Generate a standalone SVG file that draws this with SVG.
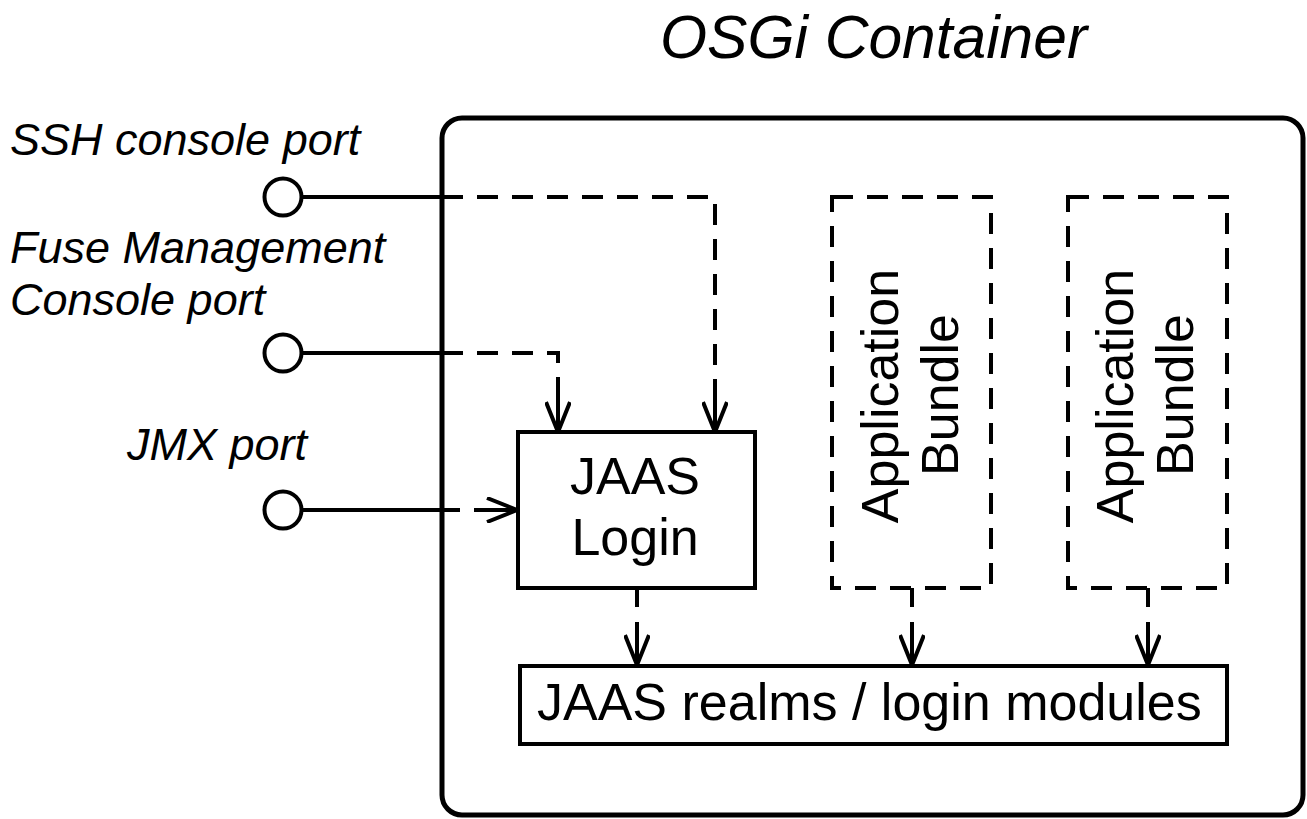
<svg xmlns="http://www.w3.org/2000/svg" width="1307" height="819" viewBox="0 0 1307 819">
<style>
  text { font-family: "Liberation Sans", Arial, sans-serif; fill: #000; }
  .lbl { font-style: italic; font-size: 45px; }
  .title { font-style: italic; font-size: 60.5px; }
  .node { font-size: 52px; }
  .box { fill: #fff; stroke: #000; stroke-width: 4; }
  .dbox { fill: none; stroke: #000; stroke-width: 4; stroke-dasharray: 21 14; }
  .port { fill: #fff; stroke: #000; stroke-width: 4; }
  .solid { fill: none; stroke: #000; stroke-width: 4; }
  .dash { fill: none; stroke: #000; stroke-width: 4; stroke-dasharray: 21 14; }
  .arr { fill: none; stroke: #000; stroke-width: 4; marker-end: url(#open); }
</style>
<defs>
  <marker id="open" viewBox="0 0 32 26" refX="31" refY="13" markerWidth="32" markerHeight="26" markerUnits="userSpaceOnUse" orient="auto">
    <path d="M1,1 L31,13 L1,25" fill="none" stroke="#000" stroke-width="4"/>
  </marker>
</defs>
<rect width="1307" height="819" fill="#fff"/>

<g id="title">
  <text class="title" x="660" y="58">OSGi Container</text>
</g>

<g id="container">
  <rect x="442" y="118" width="861" height="697" rx="20" ry="20" fill="none" stroke="#000" stroke-width="5"/>
</g>

<g id="ssh-port">
  <text class="lbl" x="10" y="155">SSH console port</text>
  <circle class="port" cx="283" cy="197" r="18.5"/>
</g>
<g id="fuse-port">
  <text class="lbl" x="10" y="263">Fuse Management</text>
  <text class="lbl" x="10" y="315">Console port</text>
  <circle class="port" cx="283" cy="353" r="18.5"/>
</g>
<g id="jmx-port">
  <text class="lbl" x="127" y="460">JMX port</text>
  <circle class="port" cx="283" cy="510" r="18.5"/>
</g>

<g id="jaas-login">
  <rect class="box" x="518" y="432" width="237" height="156"/>
  <text class="node" x="635" y="494" text-anchor="middle">JAAS</text>
  <text class="node" x="635" y="555" text-anchor="middle">Login</text>
</g>

<g id="app-bundle-1">
  <rect class="dbox" x="832" y="197" width="159" height="391"/>
  <text class="node" transform="translate(898,396) rotate(-90)" text-anchor="middle">Application</text>
  <text class="node" transform="translate(958,395) rotate(-90)" text-anchor="middle">Bundle</text>
</g>

<g id="app-bundle-2">
  <rect class="dbox" x="1068" y="197" width="159" height="391"/>
  <text class="node" transform="translate(1133,396) rotate(-90)" text-anchor="middle">Application</text>
  <text class="node" transform="translate(1193,395) rotate(-90)" text-anchor="middle">Bundle</text>
</g>

<g id="jaas-realms">
  <rect class="box" x="520" y="666" width="707" height="78"/>
  <text class="node" x="537" y="720">JAAS realms / login modules</text>
</g>

<g id="connectors">
  <!-- SSH -->
  <path class="solid" d="M301,197 H442"/>
  <path class="dash" d="M442,197 H715 V412"/>
  <path class="arr" d="M715,397 V432"/>
  <!-- Fuse -->
  <path class="solid" d="M301,353 H442"/>
  <path class="dash" d="M442,353 H558 V412"/>
  <path class="arr" d="M558,397 V432"/>
  <!-- JMX -->
  <path class="solid" d="M301,510 H460"/>
  <path class="arr" d="M474,510 H517"/>
  <!-- JAAS Login to realms -->
  <path class="solid" d="M637,588 V607"/>
  <path class="arr" d="M637,622 V665"/>
  <!-- Bundle 1 to realms -->
  <path class="solid" d="M912,588 V607"/>
  <path class="arr" d="M912,622 V665"/>
  <!-- Bundle 2 to realms -->
  <path class="solid" d="M1148,588 V607"/>
  <path class="arr" d="M1148,622 V665"/>
</g>
</svg>
